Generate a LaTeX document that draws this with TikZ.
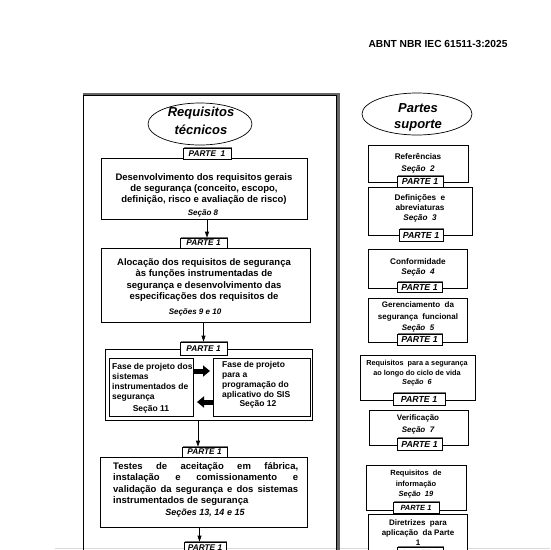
\documentclass[tikz,border=0pt]{standalone}
\usepackage{fontspec}
\setmainfont{Liberation Sans}
\usetikzlibrary{arrows.meta,shadows,shapes.geometric}
\newcommand\sz[2]{\fontsize{#1}{#2}\selectfont}
\begin{document}
\begin{tikzpicture}[x=1pt,y=-1pt,
 box/.style={draw, line width=0.7pt, fill=white, anchor=north west, inner sep=0pt, outer sep=0pt},
 tg/.style={draw, line width=0.7pt, fill=white, inner sep=0pt, font=\bfseries\itshape\sz{8.3}{9},
   general shadow={fill=black!55, shadow xshift=1.3pt, shadow yshift=1.3pt}},
 tgr/.style={tg, font=\bfseries\itshape\sz{8.8}{9}},
 arr/.style={-{Triangle[length=6pt,width=4pt]}, line width=0.7pt},
 fat/.style={line width=5pt, -{Triangle[length=7pt,width=11pt]}},
 lt/.style={font=\bfseries\sz{9.5}{10.6}, align=center, anchor=base, inner sep=0pt},
 it/.style={font=\bfseries\sz{8.5}{10}, align=left, anchor=base west, inner sep=0pt},
 sec/.style={font=\bfseries\itshape\sz{8}{9}, anchor=base, inner sep=0pt},
 rt/.style={font=\bfseries\sz{8.2}{10.5}, align=center, anchor=base, inner sep=0pt},
 rs/.style={font=\bfseries\sz{7.3}{9.5}, align=center, anchor=base, inner sep=0pt},
 ell/.style={ellipse, draw, line width=0.7pt, fill=white, inner sep=0pt},
 et/.style={font=\bfseries\itshape\sz{13}{18}, align=center, anchor=base, inner sep=0pt}
]
\useasboundingbox (0,0) rectangle (550,550);
\fill[white] (0,0) rectangle (550,550);
% header
\node[font=\bfseries\sz{10.2}{11}, anchor=base, inner sep=0pt] (hdr) at (438,47) {ABNT NBR IEC 61511-3:2025};
% page edge line
\draw[black!15, line width=0.8pt] (55,548.5) -- (550,548.5);
% left frame
\draw[black!60, line width=3pt] (83,94) -- (338,94) -- (338,560);
\draw[line width=0.7pt] (83,560) -- (83,95.5) -- (336.5,95.5) -- (336.5,560);

% ===== left column =====
\node[ell, minimum width=104pt, minimum height=42pt] (e1) at (200,124) {};
\node[et] (e1t) at (201,134.5) {Requisitos\\técnicos};

\node[box, minimum width=206pt, minimum height=61pt] (b1) at (101,158) {};
\node[lt] (b1t) at (204,202) {Desenvolvimento dos requisitos gerais\\de segurança (conceito, escopo,\\definição, risco e avaliação de risco)};
\node[sec] (b1s) at (203,215.5) {Seção 8};

\node[box, minimum width=209pt, minimum height=74pt] (b2) at (101,248) {};
\node[lt, font=\bfseries\sz{9.5}{11.4}] (b2t) at (204,299.7) {Alocação dos requisitos de segurança\\às funções instrumentadas de\\segurança e desenvolvimento das\\especificações dos requisitos de};
\node[sec] (b2s) at (195,314.5) {Seções 9 e 10};

\node[box, minimum width=207pt, minimum height=71pt] (b3) at (105,349) {};
\node[box, minimum width=84pt, minimum height=58pt] (b3l) at (109,358) {};
\node[box, minimum width=97pt, minimum height=58pt] (b3r) at (213,358) {};
\node[it] (b3lt) at (112,399.5) {Fase de projeto dos\\sistemas\\instrumentados de\\segurança};
\node[sec, font=\bfseries\sz{8.5}{10}] (b3ls) at (151,411.5) {Seção 11};
\node[it] (b3rt) at (222,397.5) {Fase de projeto\\para a\\programação do\\aplicativo do SIS};
\node[sec, font=\bfseries\sz{8.5}{10}] (b3rs) at (258,406.5) {Seção 12};
\coordinate (fa1) at (193,371);
\coordinate (fa2) at (210,371);
\coordinate (fb1) at (214,402);
\coordinate (fb2) at (197,402);
\draw[fat] (fa1) -- (fa2);
\draw[fat] (fb1) -- (fb2);

\node[box, minimum width=207pt, minimum height=70pt] (b4) at (100,457) {};
\node[font=\bfseries\sz{9.5}{11.4}, align=left, anchor=base west, inner sep=0pt] (b4t) at (113,503.7) {%
\hbox to 185pt{Testes\hfill de\hfill aceitação\hfill em\hfill fábrica,}\\
\hbox to 185pt{instalação\hfill e\hfill comissionamento\hfill e}\\
\hbox to 185pt{validação\hfill da\hfill segurança\hfill e\hfill dos\hfill sistemas}\\
instrumentados de segurança};
\node[sec, font=\bfseries\itshape\sz{9}{10}] (b4s) at (205,515) {Seções 13, 14 e 15};

% tags left
\node[tg, minimum width=48pt, minimum height=11pt] (t1) at (207,153.5) {PARTE\ \ 1};
\node[tg, minimum width=47pt, minimum height=10pt] (t2) at (203.5,243) {PARTE 1};
\node[tg, minimum width=47pt, minimum height=13pt] (t3) at (203.5,348.5) {PARTE 1};
\node[tg, minimum width=45pt, minimum height=10pt] (t4) at (204.5,452) {PARTE 1};
\node[tg, minimum width=42pt, minimum height=11pt] (t5) at (205,547.5) {PARTE 1};

% connectors left
\draw[arr] (b1.south -| t1.south) -- (t2.north -| t1.south);
\draw[arr] (t3.north |- b2.south) -- (t3.north);
\draw[arr] ([xshift=-10.5pt]b3.south) -- ([xshift=-6.5pt]t4.north);
\draw[arr] ([xshift=-4pt]b4.south) -- ([xshift=-5.5pt]t5.north);

% ===== right column =====
\node[ell, minimum width=110pt, minimum height=42pt] (e2) at (417,114) {};
\node[et, font=\bfseries\itshape\sz{13}{16}] (e2t) at (418,128.5) {Partes\\suporte};

\node[box, minimum width=100pt, minimum height=37pt] (r1) at (368,145) {};
\node[rt, font=\bfseries\sz{8.2}{12}] (r1t) at (418,171.5) {Referências\\\itshape Seção\ \ 2};
\node[box, minimum width=104pt, minimum height=48pt] (r2) at (368,187) {};
\node[rt, font=\bfseries\sz{8.2}{10}] (r2t) at (420,220.5) {Definições\ \ e\\abreviaturas\\\itshape Seção\ \ 3};
\node[box, minimum width=99pt, minimum height=39pt] (r3) at (368,249) {};
\node[rt] (r3t) at (418,274.5) {Conformidade\\\itshape Seção\ \ 4};
\node[box, minimum width=99pt, minimum height=44pt] (r4) at (368,298) {};
\node[rt, font=\bfseries\sz{8}{11.5}] (r4t) at (418,330.5) {Gerenciamento\ \ da\\segurança\ \ funcional\\\itshape Seção\ \ 5};
\node[box, minimum width=115pt, minimum height=45pt] (r5) at (360,355) {};
\node[rs] (r5t) at (417,384.5) {Requisitos\ \ para\ a segurança\\ao longo do ciclo de vida\\\itshape Seção\ \ 6};
\node[box, minimum width=99pt, minimum height=35pt] (r6) at (369,410) {};
\node[rt, font=\bfseries\sz{8}{12}] (r6t) at (418,432.5) {Verificação\\\itshape Seção\ \ 7};
\node[box, minimum width=100pt, minimum height=45pt] (r7) at (366,465) {};
\node[rs, font=\bfseries\sz{7.5}{10.5}] (r7t) at (416,496.5) {Requisitos\ \ de\\informação\\\itshape Seção\ \ 19};
\node[box, minimum width=99pt, minimum height=46pt] (r8) at (368,514) {};
\node[rt, font=\bfseries\sz{8}{10}] (r8t) at (418,545) {Diretrizes\ \ para\\aplicação\ \ da Parte\\1};

% tags right
\node[tgr, minimum width=46pt, minimum height=11pt] (g1) at (420,181.5) {PARTE 1};
\node[tgr, minimum width=44pt, minimum height=12pt] (g2) at (421,235) {PARTE 1};
\node[tgr, minimum width=45pt, minimum height=10pt] (g3) at (419.5,287) {PARTE 1};
\node[tgr, minimum width=45pt, minimum height=11pt] (g4) at (419.5,339.5) {PARTE 1};
\node[tgr, minimum width=52pt, minimum height=12pt] (g5) at (419,399) {PARTE 1};
\node[tgr, minimum width=45pt, minimum height=12pt] (g6) at (419.5,444) {PARTE 1};
\node[tg, minimum width=46pt, minimum height=11pt, font=\bfseries\itshape\sz{7.5}{8}] (g7) at (416,507.5) {PARTE 1};
\node[tgr, minimum width=46pt, minimum height=11pt] (g8) at (420,553) {PARTE 1};
\end{tikzpicture}
\end{document}
